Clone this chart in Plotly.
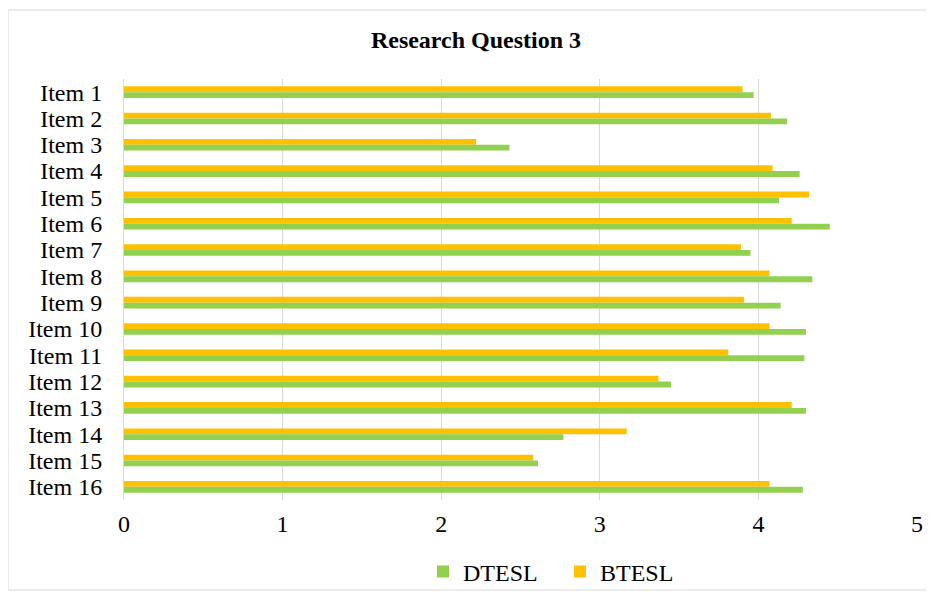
import plotly.graph_objects as go

items = [f"Item {i}" for i in range(1, 17)]
dtesl = [3.97, 4.18, 2.43, 4.26, 4.13, 4.45, 3.95, 4.34, 4.14, 4.30, 4.29, 3.45, 4.30, 2.77, 2.61, 4.28]
btesl = [3.90, 4.08, 2.22, 4.09, 4.32, 4.21, 3.89, 4.07, 3.91, 4.07, 3.81, 3.37, 4.21, 3.17, 2.58, 4.07]
x_ticks = [0, 1, 2, 3, 4, 5]

GREEN = "#92D050"
ORANGE = "#FFC000"
SERIF = "Liberation Serif, Times New Roman, serif"

fig = go.Figure()
fig.add_trace(go.Bar(y=items, x=btesl, name="BTESL", orientation="h",
                     marker=dict(color=ORANGE, line=dict(width=0)), legendrank=2))
fig.add_trace(go.Bar(y=items, x=dtesl, name="DTESL", orientation="h",
                     marker=dict(color=GREEN, line=dict(width=0)), legendrank=1))

# page body adds 8px offset; figure coordinates below are relative to that
W, H = 926, 586
L, R, T, B = 116, 17, 71, 94
pw, ph = W - L - R, H - T - B

fig.update_layout(
    width=W, height=H,
    margin=dict(l=L, r=R, t=T, b=B, autoexpand=False),
    paper_bgcolor="white", plot_bgcolor="white",
    barmode="group", bargap=0.56, bargroupgap=0,
    title=dict(text="<b>Research Question 3</b>", x=(476 - 8) / W, xanchor="center",
               y=1 - 32 / H, yanchor="middle",
               font=dict(family=SERIF, size=24, color="black")),
    font=dict(family=SERIF, color="black"),
    legend=dict(orientation="h", x=(423 - 8 - L) / pw, xanchor="left", y=-(564 - 492) / ph,
                yanchor="middle", font=dict(family=SERIF, size=24, color="black"),
                itemwidth=30, entrywidth=92, traceorder="normal", bgcolor="rgba(0,0,0,0)"),
    xaxis=dict(range=[0, 5], tickvals=x_ticks, showgrid=True, gridcolor="#D9D9D9",
               gridwidth=1, zeroline=False, showline=False, ticks="",
               ticklabelstandoff=7, automargin=False,
               tickfont=dict(family=SERIF, size=24, color="black")),
    yaxis=dict(autorange="reversed", showgrid=False, showline=True, linecolor="#D9D9D9",
               linewidth=1, ticks="", ticklabelstandoff=16, automargin=False,
               tickmode="array", tickvals=items, ticktext=items,
               tickfont=dict(family=SERIF, size=24, color="black")),
    shapes=[dict(type="rect", xref="paper", yref="paper",
                 x0=(0 - L) / pw, x1=(920 - L) / pw,
                 y0=(H - B - 582) / ph, y1=(H - B - 2) / ph,
                 line=dict(color="#D9D9D9", width=1), fillcolor="rgba(0,0,0,0)",
                 layer="below")],
)

fig.write_html("out.html")
